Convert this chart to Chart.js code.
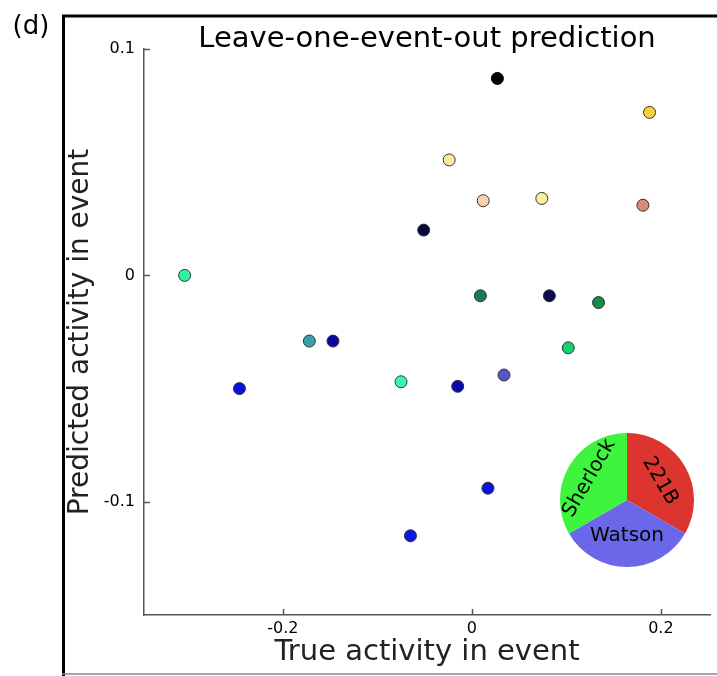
<!DOCTYPE html>
<html>
<head>
<meta charset="utf-8">
<script src="https://cdn.jsdelivr.net/npm/chart.js@4.4.0/dist/chart.umd.min.js"></script>
<style>
  body { margin: 0; background: #fff; }
  #wrap { position: relative; width: 717px; height: 676px; overflow: hidden; }
  #main { position: absolute; left: 0; top: 0; }
  #inset { position: absolute; left: 557px; top: 430px; }
</style>
</head>
<body>
<div id="wrap">
  <canvas id="main" width="717" height="676"></canvas>
  <canvas id="inset" width="140" height="140"></canvas>
</div>
<script>
// one point per left-out event
const trueAct = [0.027, 0.188, -0.024, 0.012, 0.074, 0.181, -0.051, -0.304, 0.009, 0.082,
                 0.134, -0.172, -0.147, 0.102, -0.246, -0.075, -0.015, 0.034, 0.017, -0.065];
const predAct = [0.087, 0.072, 0.051, 0.033, 0.034, 0.031, 0.020, 0.000, -0.009, -0.009,
                 -0.012, -0.029, -0.029, -0.032, -0.050, -0.047, -0.049, -0.044, -0.094, -0.115];
const pointColors = ['#000000', '#f5d23c', '#fde8a0', '#fcd0ac', '#fdf09a', '#d98a78', '#08083f', '#2ff5a0', '#1a7a55', '#0a0a55',
                     '#148c48', '#38a0aa', '#0808a0', '#14d26a', '#0a10d8', '#38f5a8', '#0808a8', '#5454cc', '#0a12e0', '#0a18e8'];
const xTicks = [-0.2, 0, 0.2];
const yTicks = [-0.1, 0, 0.1];

// legend pie
const pieLabels = ['221B', 'Watson', 'Sherlock'];
const pieValues = [1, 1, 1];
const pieColors = ['#dc3530', '#6a68e8', '#3cf53c'];

const FONT = "'DejaVu Sans', Verdana, sans-serif";
const AXIS = '#555';

const fmt = v => (v === 0 ? '0' : String(v));

// short inward tick marks + outer frame + panel letter
const framePlugin = {
  id: 'frame',
  afterDraw(chart) {
    const c = chart.ctx;
    const {x, y} = chart.scales;
    const a = chart.chartArea;
    c.save();
    c.strokeStyle = AXIS;
    c.lineWidth = 1.5;
    c.beginPath();
    x.ticks.forEach(t => {
      const px = Math.round(x.getPixelForValue(t.value)) + 0.5;
      c.moveTo(px, a.bottom);
      c.lineTo(px, a.bottom - 6);
    });
    y.ticks.forEach(t => {
      const py = Math.round(y.getPixelForValue(t.value)) + 0.5;
      c.moveTo(a.left, py);
      c.lineTo(a.left + 6, py);
    });
    c.stroke();

    c.strokeStyle = '#000';
    c.lineWidth = 3;
    c.beginPath();
    c.moveTo(63.5, 676);
    c.lineTo(63.5, 16);
    c.lineTo(717, 16);
    c.stroke();
    c.strokeStyle = '#888';
    c.lineWidth = 1.5;
    c.beginPath();
    c.moveTo(62, 674);
    c.lineTo(717, 674);
    c.stroke();
    c.fillStyle = '#000';
    c.font = '26px ' + FONT;
    c.textAlign = 'center';
    c.textBaseline = 'middle';
    c.fillText('(d)', 31, 27);
    c.restore();
  }
};

new Chart(document.getElementById('main'), {
  type: 'scatter',
  data: {
    datasets: [{
      data: trueAct.map((x, i) => ({x: x, y: predAct[i]})),
      backgroundColor: pointColors,
      borderColor: pointColors.map(c => c === '#000000' ? '#000' : '#333'),
      borderWidth: 1,
      pointRadius: 6,
      pointHoverRadius: 6
    }]
  },
  options: {
    responsive: false,
    animation: false,
    events: [],
    layout: { padding: { left: 0, right: 7, top: 0, bottom: 0 } },
    plugins: {
      legend: { display: false },
      tooltip: { enabled: false },
      title: {
        display: true,
        text: 'Leave-one-event-out prediction',
        fullSize: false,
        color: '#000',
        font: { family: FONT, size: 29, weight: 'normal', lineHeight: 0.5 },
        padding: { top: 32, bottom: 2.5 }
      }
    },
    scales: {
      x: {
        type: 'linear',
        min: -0.347,
        max: 0.252,
        afterBuildTicks: s => { s.ticks = xTicks.map(v => ({value: v})); },
        afterFit: s => { s.height = 61; },
        border: { display: true, color: AXIS, width: 1.5 },
        grid: { display: false, drawTicks: false },
        ticks: { color: '#000', padding: 4, font: { family: FONT, size: 16 }, callback: fmt, maxRotation: 0 },
        title: {
          display: true,
          text: 'True activity in event',
          color: '#222',
          font: { family: FONT, size: 29 },
          padding: { top: 0, bottom: 6 }
        }
      },
      y: {
        type: 'linear',
        min: -0.15,
        max: 0.1,
        afterBuildTicks: s => { s.ticks = yTicks.map(v => ({value: v})); },
        afterFit: s => { s.width = 144; },
        border: { display: true, color: AXIS, width: 1.5 },
        grid: { display: false, drawTicks: false },
        ticks: { color: '#000', padding: 9, font: { family: FONT, size: 16 }, callback: fmt },
        title: {
          display: true,
          text: 'Predicted activity in event',
          color: '#222',
          font: { family: FONT, size: 28 },
          padding: { top: 64, bottom: 0 }
        }
      }
    }
  },
  plugins: [framePlugin]
});

// slice names written along each slice
const sliceDist = [0.57, 0.53, 0.65];
const sliceText = {
  id: 'sliceText',
  afterDatasetsDraw(chart) {
    const c = chart.ctx;
    const arcs = chart.getDatasetMeta(0).data;
    c.save();
    c.fillStyle = '#000';
    c.font = '20px ' + FONT;
    c.textAlign = 'center';
    c.textBaseline = 'middle';
    arcs.forEach((arc, i) => {
      const mid = (arc.startAngle + arc.endAngle) / 2;
      const r = arc.outerRadius * sliceDist[i];
      let rot = mid + Math.PI / 2;
      while (rot > Math.PI / 2) rot -= Math.PI;
      while (rot <= -Math.PI / 2) rot += Math.PI;
      c.save();
      c.translate(arc.x + Math.cos(mid) * r, arc.y + Math.sin(mid) * r);
      c.rotate(rot);
      c.fillText(pieLabels[i], 0, 0);
      c.restore();
    });
    c.restore();
  }
};

new Chart(document.getElementById('inset'), {
  type: 'pie',
  data: {
    labels: pieLabels,
    datasets: [{ data: pieValues, backgroundColor: pieColors, borderWidth: 0 }]
  },
  options: {
    responsive: false,
    animation: false,
    events: [],
    layout: { padding: 3 },
    plugins: { legend: { display: false }, tooltip: { enabled: false } }
  },
  plugins: [sliceText]
});
</script>
</body>
</html>
